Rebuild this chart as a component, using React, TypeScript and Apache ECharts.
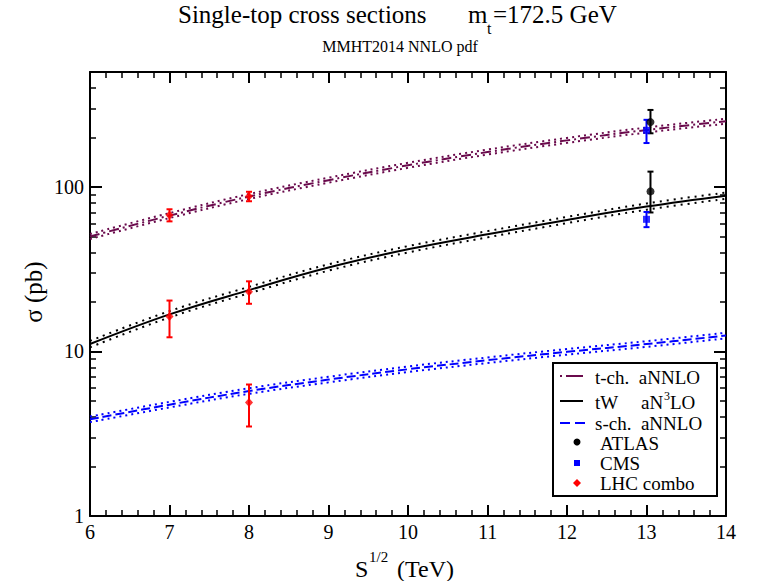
import React, { useEffect, useRef } from 'react';
import * as echarts from 'echarts';

// sqrt(S) in TeV
const energies = [6, 7, 8, 9, 10, 11, 12, 13, 14];

// t-channel aNNLO (pb)
const tchCentral = [50, 67, 87.5, 110, 135.5, 163, 192, 222, 251];
const tchUpper = [51.8, 69.4, 90.6, 113.9, 140.3, 168.8, 198.8, 229.9, 259.9];
const tchLower = [48.3, 64.7, 84.5, 106.2, 130.8, 157.4, 185.4, 214.3, 242.3];

// tW aN3LO (pb)
const twCentral = [11.1, 16.8, 23.6, 32.4, 41.8, 51.6, 63.0, 76.0, 88.5];
const twUpper = [11.6, 17.6, 24.7, 33.9, 43.7, 53.9, 65.8, 79.4, 92.5];
const twLower = [10.6, 16.1, 22.6, 31.0, 40.0, 49.4, 60.3, 72.7, 84.7];

// s-channel aNNLO (pb)
const schCentral = [3.87, 4.75, 5.75, 6.75, 7.8, 8.85, 9.95, 11.1, 12.5];
const schUpper = [4.02, 4.94, 5.98, 7.02, 8.11, 9.2, 10.35, 11.55, 13.0];
const schLower = [3.72, 4.57, 5.53, 6.49, 7.5, 8.51, 9.57, 10.67, 12.02];

// measurements: [sqrtS, value, low, high]
const atlasData = [
  [13.05, 248, 212, 294],
  [13.05, 94, 70, 124],
];
const cmsData = [
  [13.0, 221, 185, 256],
  [13.0, 63.6, 57, 70.5],
];
const lhcComboData = [
  [7, 67.5, 61.8, 73.2],
  [7, 16.3, 12.2, 20.4],
  [8, 87.7, 81.9, 93.5],
  [8, 23.1, 19.5, 26.7],
  [8, 4.9, 3.5, 6.3],
];

const yMajor = [1, 10, 100];
const yMinor = [2, 3, 4, 5, 6, 7, 8, 9, 20, 30, 40, 50, 60, 70, 80, 90, 200, 300, 400];

const SERIF = 'Liberation Serif';
const PURPLE = '#6a0a4c';
const BLUE = '#0000ff';
const RED = '#ff0000';

function curve(data: number[], color: string, type: any, width: number, z: number) {
  return {
    type: 'line',
    data: energies.map((e, i) => [e, data[i]]),
    xAxisIndex: 0,
    yAxisIndex: 0,
    smooth: 0.4,
    showSymbol: false,
    symbol: 'none',
    silent: true,
    z,
    lineStyle: { color, width, type },
  };
}

function errorBars(data: number[][], color: string) {
  return {
    type: 'custom',
    xAxisIndex: 0,
    yAxisIndex: 0,
    silent: true,
    z: 5,
    data: data.map((d) => [d[0], d[2], d[3]]),
    encode: { x: 0, y: [1, 2] },
    renderItem: (_params: any, api: any) => {
      const x = api.value(0);
      const top = api.coord([x, api.value(2)]);
      const bot = api.coord([x, api.value(1)]);
      const cap = 3;
      const st = { stroke: color, lineWidth: 2 };
      return {
        type: 'group',
        children: [
          { type: 'line', shape: { x1: top[0], y1: top[1], x2: bot[0], y2: bot[1] }, style: st },
          { type: 'line', shape: { x1: top[0] - cap, y1: top[1], x2: top[0] + cap, y2: top[1] }, style: st },
          { type: 'line', shape: { x1: bot[0] - cap, y1: bot[1], x2: bot[0] + cap, y2: bot[1] }, style: st },
        ],
      };
    },
  };
}

function points(data: number[][], symbol: string, size: any, color: string) {
  return {
    type: 'scatter',
    xAxisIndex: 0,
    yAxisIndex: 0,
    silent: true,
    z: 6,
    symbol,
    symbolSize: size,
    itemStyle: { color },
    data: data.map((d) => [d[0], d[1]]),
  };
}

const axisLineStyle = { color: '#000', width: 2 };

function xAxisDef(position: 'bottom' | 'top', labels: boolean) {
  return {
    type: 'value',
    position,
    min: 6,
    max: 14,
    interval: 1,
    axisLine: { show: true, onZero: false, lineStyle: axisLineStyle },
    axisTick: { show: true, inside: true, length: 11, lineStyle: { color: '#000', width: 2 } },
    minorTick: { show: true, splitNumber: 5, length: 6, lineStyle: { color: '#000', width: 1.5 } },
    splitLine: { show: false },
    minorSplitLine: { show: false },
    axisLabel: { show: labels, fontSize: 20, fontFamily: SERIF, color: '#000', margin: 6 },
  };
}

function yAxisDef(position: 'left' | 'right', major: boolean, labels: boolean) {
  return {
    type: 'log',
    logBase: 10,
    position,
    min: 1,
    max: 500,
    splitLine: { show: false },
    minorTick: { show: false },
    axisLine: { show: major, lineStyle: axisLineStyle },
    axisTick: {
      show: true,
      inside: true,
      length: major ? 12 : 6,
      customValues: major ? yMajor : yMinor,
      lineStyle: { color: '#000', width: major ? 2 : 1.5 },
    },
    axisLabel: {
      show: labels,
      customValues: yMajor,
      fontSize: 20,
      fontFamily: SERIF,
      color: '#000',
      margin: 6,
      formatter: (v: number) => String(Math.round(v)),
    },
  };
}

function txt(x: number, y: number, text: string, size: number, align: string = 'left') {
  return {
    type: 'text',
    x,
    y,
    silent: true,
    z: 100,
    style: {
      text,
      fill: '#000',
      font: `${size}px ${SERIF}`,
      align,
      verticalAlign: 'middle',
    },
  };
}

export default function App() {
  const ref = useRef<HTMLDivElement>(null);
  useEffect(() => {
    if (!ref.current) return;
    const chart = echarts.init(ref.current, undefined, { renderer: 'svg' });
    const lx = 560;
    const graphic: any[] = [
      // title
      txt(178, 14, 'Single-top cross sections', 25),
      txt(468, 14, 'm', 25),
      txt(487, 28, 't', 16),
      txt(493, 14, '=172.5 GeV', 25),
      txt(400, 46, 'MMHT2014 NNLO pdf', 16, 'center'),
      // x axis title
      txt(355, 569, 'S', 24),
      txt(369, 557, '1/2', 15),
      txt(397, 569, '(TeV)', 24),
      // y axis title
      {
        type: 'text',
        x: 33,
        y: 292,
        rotation: Math.PI / 2,
        silent: true,
        z: 100,
        style: { text: 'σ (pb)', fill: '#000', font: `25px ${SERIF}`, align: 'center', verticalAlign: 'middle' },
      },
      // legend box
      {
        type: 'rect',
        shape: { x: 553, y: 363, width: 164, height: 133 },
        style: { fill: '#fff', stroke: '#000', lineWidth: 2 },
        z: 90,
        silent: true,
      },
      { type: 'line', z: 100, silent: true, shape: { x1: lx, y1: 376, x2: lx + 23, y2: 376 }, style: { stroke: PURPLE, lineWidth: 2, lineDash: [2, 4, 20, 0] } },
      txt(595, 377, 't-ch.  aNNLO', 19),
      { type: 'line', z: 100, silent: true, shape: { x1: lx, y1: 401, x2: lx + 23, y2: 401 }, style: { stroke: '#000', lineWidth: 2 } },
      txt(595, 402, 'tW', 19),
      txt(641, 402, 'aN', 19),
      txt(664, 396, '3', 12),
      txt(670, 402, 'LO', 19),
      { type: 'line', z: 100, silent: true, shape: { x1: lx, y1: 423, x2: lx + 25, y2: 423 }, style: { stroke: BLUE, lineWidth: 2, lineDash: [10, 5] } },
      txt(595, 423, 's-ch.  aNNLO', 19),
      { type: 'circle', z: 100, silent: true, shape: { cx: 577, cy: 442, r: 3.5 }, style: { fill: '#000' } },
      txt(600, 443, 'ATLAS', 19),
      { type: 'rect', z: 100, silent: true, shape: { x: 574, y: 460, width: 6, height: 6 }, style: { fill: BLUE } },
      txt(600, 463, 'CMS', 19),
      { type: 'polygon', z: 100, silent: true, shape: { points: [[577, 479], [581, 483], [577, 487], [573, 483]] }, style: { fill: RED } },
      txt(600, 483, 'LHC combo', 19),
    ];

    const option: any = {
      animation: false,
      backgroundColor: '#fff',
      grid: { left: 90, right: 32, top: 72, bottom: 65, containLabel: false, outerBoundsMode: 'none' },
      xAxis: [xAxisDef('bottom', true), xAxisDef('top', false)],
      yAxis: [
        yAxisDef('left', true, true),
        yAxisDef('left', false, false),
        yAxisDef('right', true, false),
        yAxisDef('right', false, false),
      ],
      series: [
        curve(tchUpper, PURPLE, [2, 4], 2, 2),
        curve(tchLower, PURPLE, [2, 4], 2, 2),
        curve(tchCentral, PURPLE, [10, 4, 2, 4], 2, 3),
        curve(twUpper, '#000', [2, 5], 2, 2),
        curve(twLower, '#000', [2, 5], 2, 2),
        curve(twCentral, '#000', 'solid', 2, 3),
        curve(schUpper, BLUE, [2, 4], 2, 2),
        curve(schLower, BLUE, [2, 4], 2, 2),
        curve(schCentral, BLUE, [9, 4], 2, 3),
        errorBars(atlasData, '#000'),
        errorBars(cmsData, BLUE),
        errorBars(lhcComboData, RED),
        points(atlasData, 'circle', 8, '#000'),
        points(cmsData, 'rect', 7, BLUE),
        points(lhcComboData, 'diamond', [8, 9], RED),
      ],
      graphic,
    };
    chart.setOption(option);
    return () => chart.dispose();
  }, []);
  return <div ref={ref} style={{ width: 758, height: 581, position: 'absolute', left: 0, top: 0 }} />;
}
